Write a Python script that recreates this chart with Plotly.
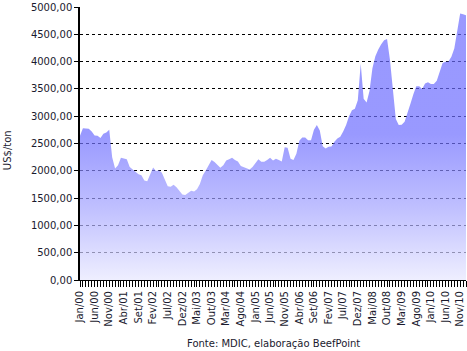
import plotly.graph_objects as go

month_names = ["Jan", "Fev", "Mar", "Abr", "Mai", "Jun", "Jul", "Ago", "Set", "Out", "Nov", "Dez"]
months = [f"{month_names[m]}/{str(y)[2:]}" for y in range(2000, 2011) for m in range(12)] + ["Jan/11"]

prices = [
    2640, 2780, 2775, 2770, 2720, 2645, 2640, 2600, 2680, 2700, 2750, 2250,  # 2000
    2040, 2100, 2240, 2225, 2210, 2070, 2020, 1970, 1935, 1920, 1822, 1810,  # 2001
    1930, 2060, 1995, 2009, 1965, 1840, 1715, 1710, 1745, 1700, 1640, 1565,  # 2002
    1557, 1600, 1635, 1620, 1660, 1760, 1920, 2005, 2110, 2200, 2160, 2100,  # 2003
    2055, 2100, 2190, 2210, 2240, 2200, 2172, 2090, 2065, 2040, 2025, 2070,  # 2004
    2140, 2210, 2165, 2165, 2200, 2240, 2190, 2220, 2200, 2170, 2430, 2420,  # 2005
    2220, 2200, 2310, 2550, 2610, 2610, 2560, 2560, 2750, 2840, 2740, 2450,  # 2006
    2410, 2440, 2443, 2530, 2590, 2625, 2720, 2840, 3000, 3110, 3135, 3290,  # 2007
    3960, 3318, 3250, 3460, 3880, 4100, 4220, 4320, 4390, 4416, 4030, 3420,  # 2008
    2950, 2840, 2845, 2900, 3050, 3230, 3400, 3550, 3550, 3500, 3600, 3620,  # 2009
    3590, 3590, 3650, 3830, 3975, 3995, 4000, 4090, 4240, 4560, 4880, 4865,  # 2010
    4850,                                                                    # 2011
]

y_ticks = [0, 500, 1000, 1500, 2000, 2500, 3000, 3500, 4000, 4500, 5000]
y_tick_text = [f"{v},00" for v in y_ticks]

idx = list(range(len(months)))
x_tick_text = [m if i % 5 == 0 and i < 131 else "" for i, m in enumerate(months)]

font_family = "DejaVu Sans, Verdana, sans-serif"
text_color = "#1a1a2e"

fig = go.Figure()
fig.add_trace(go.Scatter(
    x=idx, y=prices, mode="lines",
    line=dict(width=0, color="rgba(109,109,255,0.7)"),
    fill="tozeroy",
    fillgradient=dict(
        type="vertical",
        colorscale=[[0, "rgba(234,234,255,0.7)"], [0.5, "rgba(165,165,255,0.7)"], [1, "rgba(109,109,255,0.7)"]],
        start=0, stop=2700,
    ),
    hoverinfo="x+y",
    showlegend=False,
))

fig.update_layout(
    width=467, height=351,
    margin=dict(l=80, r=1, t=4, b=71),
    paper_bgcolor="white", plot_bgcolor="white",
    font=dict(family=font_family, size=10, color=text_color),
    xaxis=dict(
        range=[0, 132],
        tickmode="array", tickvals=idx, ticktext=x_tick_text,
        tickangle=-90, ticks="outside", ticklen=6, tickcolor="black", tickwidth=1,
        showgrid=False, zeroline=False,
        showline=True, linecolor="black", linewidth=1,
        tickfont=dict(size=10, family=font_family, color=text_color),
    ),
    yaxis=dict(
        range=[0, 5000],
        tickmode="array", tickvals=y_ticks, ticktext=y_tick_text,
        ticks="outside", ticklen=4, tickcolor="black",
        showgrid=True, gridcolor="black", griddash="dot", gridwidth=1,
        zeroline=False,
        showline=True, linecolor="black", linewidth=1.5,
        ticklabeloverflow="allow",
        tickfont=dict(size=10, family=font_family, color=text_color),
    ),
    annotations=[
        dict(text="Fonte: MDIC, elaboração BeefPoint", xref="paper", yref="paper",
             x=0.5, y=-0.232, xanchor="center", yanchor="middle", showarrow=False,
             font=dict(size=10, family=font_family, color=text_color)),
        dict(text="US$/ton", xref="paper", yref="paper",
             x=-0.187, y=0.475, xanchor="center", yanchor="middle", textangle=-90, showarrow=False,
             font=dict(size=10, family=font_family, color=text_color)),
    ],
)

fig.write_html("out.html")
